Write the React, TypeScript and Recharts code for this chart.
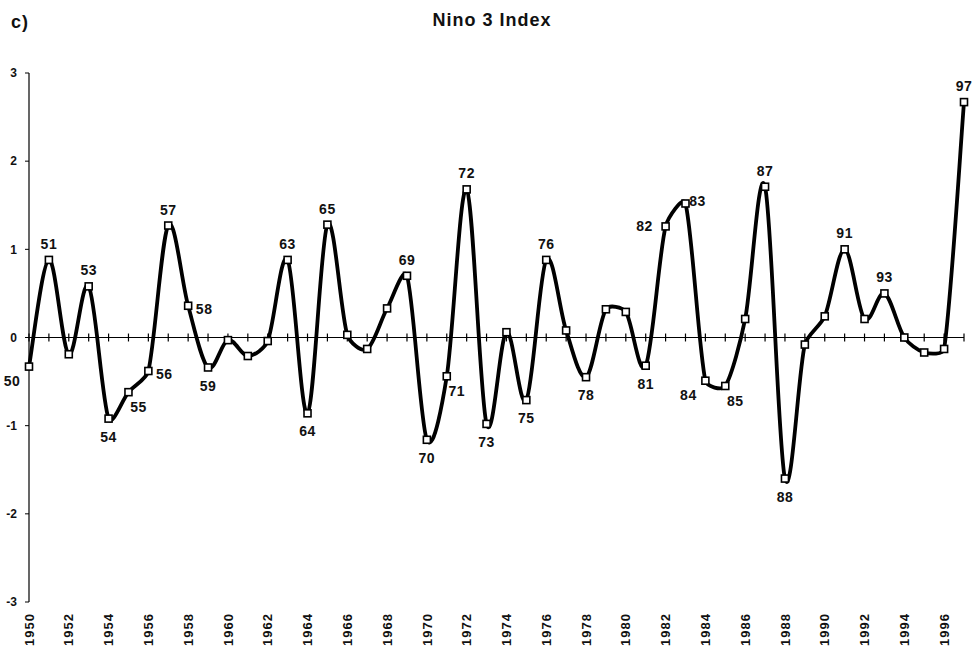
import React from 'react';
import { LineChart, Line, XAxis, YAxis, ReferenceLine, LabelList } from 'recharts';

const years = [
  1950, 1951, 1952, 1953, 1954, 1955, 1956, 1957, 1958, 1959,
  1960, 1961, 1962, 1963, 1964, 1965, 1966, 1967, 1968, 1969,
  1970, 1971, 1972, 1973, 1974, 1975, 1976, 1977, 1978, 1979,
  1980, 1981, 1982, 1983, 1984, 1985, 1986, 1987, 1988, 1989,
  1990, 1991, 1992, 1993, 1994, 1995, 1996, 1997,
];

const nino3 = [
  -0.33, 0.88, -0.19, 0.58, -0.92, -0.62, -0.38, 1.27, 0.36, -0.34,
  -0.03, -0.21, -0.04, 0.88, -0.86, 1.28, 0.03, -0.13, 0.33, 0.70,
  -1.16, -0.44, 1.68, -0.98, 0.06, -0.71, 0.88, 0.08, -0.45, 0.32,
  0.29, -0.32, 1.26, 1.52, -0.49, -0.55, 0.21, 1.71, -1.60, -0.08,
  0.24, 1.00, 0.21, 0.50, 0.00, -0.17, -0.13, 2.67,
];

// point labels (two-digit year) and where they sit relative to the marker
const pointLabels: Record<number, string> = {
  1950: '50', 1951: '51', 1953: '53', 1954: '54', 1955: '55', 1956: '56',
  1957: '57', 1958: '58', 1959: '59', 1963: '63', 1964: '64', 1965: '65',
  1969: '69', 1970: '70', 1971: '71', 1972: '72', 1973: '73', 1975: '75',
  1976: '76', 1978: '78', 1981: '81', 1982: '82', 1983: '83', 1984: '84',
  1985: '85', 1987: '87', 1988: '88', 1991: '91', 1993: '93', 1997: '97',
};

const labelSide: Record<string, string> = {
  '50': 'bl', '51': 't', '53': 't', '54': 'b', '55': 'br', '56': 'r',
  '57': 't', '58': 'r', '59': 'b', '63': 't', '64': 'b', '65': 't',
  '69': 't', '70': 'b', '71': 'br', '72': 't', '73': 'b', '75': 'b',
  '76': 't', '78': 'b', '81': 'b', '82': 'l', '83': 'tr', '84': 'bl',
  '85': 'br', '87': 't', '88': 'b', '91': 't', '93': 't', '97': 't',
};

const yTicks = [-3, -2, -1, 0, 1, 2, 3];
const xTickYears = [
  1950, 1952, 1954, 1956, 1958, 1960, 1962, 1964, 1966, 1968, 1970, 1972,
  1974, 1976, 1978, 1980, 1982, 1984, 1986, 1988, 1990, 1992, 1994, 1996,
];

const data = years.map((year, i) => ({
  year,
  v: nino3[i],
  label: pointLabels[year] || '',
}));

const sideOffsets: Record<string, [number, number]> = {
  t: [0, -16],
  b: [0, 18],
  r: [16, 3],
  l: [-21, 0],
  tr: [12, -3],
  br: [10, 15],
  bl: [-17, 14],
};

// Excel-like smoothed line: Catmull-Rom tangents, handle length
// limited by the length of the current segment
const excelSmooth = (context: any) => {
  let pts: number[][] = [];
  const T = 0.3;
  const dir = (a: number[], b: number[]) => {
    const dx = b[0] - a[0];
    const dy = b[1] - a[1];
    const l = Math.hypot(dx, dy) || 1;
    return [dx / l, dy / l, l];
  };
  return {
    areaStart() {},
    areaEnd() {},
    lineStart() {
      pts = [];
    },
    point(x: number, y: number) {
      pts.push([+x, +y]);
    },
    lineEnd() {
      const n = pts.length;
      if (!n) return;
      context.moveTo(pts[0][0], pts[0][1]);
      for (let i = 0; i < n - 1; i++) {
        const p0 = pts[Math.max(i - 1, 0)];
        const p1 = pts[i];
        const p2 = pts[i + 1];
        const p3 = pts[Math.min(i + 2, n - 1)];
        const seg = Math.hypot(p2[0] - p1[0], p2[1] - p1[1]);
        const d1 = dir(p0, p2);
        const d2 = dir(p1, p3);
        const l1 = Math.min(d1[2] / 6, T * seg);
        const l2 = Math.min(d2[2] / 6, T * seg);
        context.bezierCurveTo(
          p1[0] + l1 * d1[0],
          p1[1] + l1 * d1[1],
          p2[0] - l2 * d2[0],
          p2[1] - l2 * d2[1],
          p2[0],
          p2[1]
        );
      }
    },
  };
};

const SquareDot = (props: any) => {
  const { cx, cy, index } = props;
  if (cx == null || cy == null) return <g key={`d${index}`} />;
  return (
    <rect
      key={`d${index}`}
      x={cx - 3.5}
      y={cy - 3.5}
      width={7}
      height={7}
      fill="#fff"
      stroke="#000"
      strokeWidth={1.6}
    />
  );
};

const PointLabel = (props: any) => {
  const { x, y, value } = props;
  if (!value) return null;
  const side = labelSide[value] || 't';
  const [dx, dy] = sideOffsets[side];
  return (
    <text
      x={x + dx}
      y={y + dy}
      dy="0.36em"
      textAnchor="middle"
      fontSize={14}
      fontWeight="bold"
      letterSpacing={0.5}
      fill="#111"
    >
      {value}
    </text>
  );
};

const YearTick = (props: any) => {
  const { x, y, payload } = props;
  return (
    <text
      x={x}
      y={y}
      transform={`rotate(-90 ${x} ${y})`}
      textAnchor="end"
      dy="0.36em"
      fontSize={13}
      fontWeight="bold"
      letterSpacing={1}
      fill="#111"
    >
      {payload.value}
    </text>
  );
};

export default function App() {
  return (
    <div
      style={{
        position: 'absolute',
        left: 0,
        top: 0,
        width: 975,
        height: 652,
        background: '#fff',
        fontFamily: '"Liberation Sans", Arial, sans-serif',
      }}
    >
      <div
        style={{
          position: 'absolute',
          left: 11,
          top: 12,
          fontSize: 18,
          lineHeight: '20px',
          fontWeight: 'bold',
          letterSpacing: 1,
          color: '#111',
        }}
      >
        c)
      </div>
      <div
        style={{
          position: 'absolute',
          left: 0,
          width: 984,
          top: 10,
          textAlign: 'center',
          fontSize: 18,
          lineHeight: '20px',
          fontWeight: 'bold',
          letterSpacing: 1,
          color: '#111',
        }}
      >
        Nino 3 Index
      </div>
      <LineChart
        width={975}
        height={652}
        data={data}
        margin={{ top: 73, right: 11, bottom: 0, left: 0 }}
      >
        <XAxis
          dataKey="year"
          type="number"
          domain={[1950, 1997]}
          ticks={xTickYears}
          interval={0}
          axisLine={false}
          tickLine={false}
          tickSize={0}
          tickMargin={11}
          height={50}
          tick={<YearTick />}
        />
        <YAxis
          type="number"
          domain={[-3, 3]}
          ticks={yTicks}
          width={29}
          axisLine={{ stroke: '#000', strokeWidth: 1.2 }}
          tickLine={{ stroke: '#000' }}
          tickSize={4}
          tickMargin={8}
          tick={{ fontSize: 12, fontWeight: 'bold', fill: '#111' }}
        />
        <ReferenceLine y={0} stroke="#000" strokeWidth={1.2} />
        {years.map((yr) => (
          <ReferenceLine
            key={`t${yr}`}
            segment={[
              { x: yr, y: -0.045 },
              { x: yr, y: 0.045 },
            ]}
            stroke="#000"
            strokeWidth={1.2}
          />
        ))}
        <Line
          dataKey="v"
          type={excelSmooth as any}
          stroke="#000"
          strokeWidth={3.8}
          dot={SquareDot}
          activeDot={false}
          isAnimationActive={false}
        >
          <LabelList dataKey="label" content={PointLabel} />
        </Line>
      </LineChart>
    </div>
  );
}
